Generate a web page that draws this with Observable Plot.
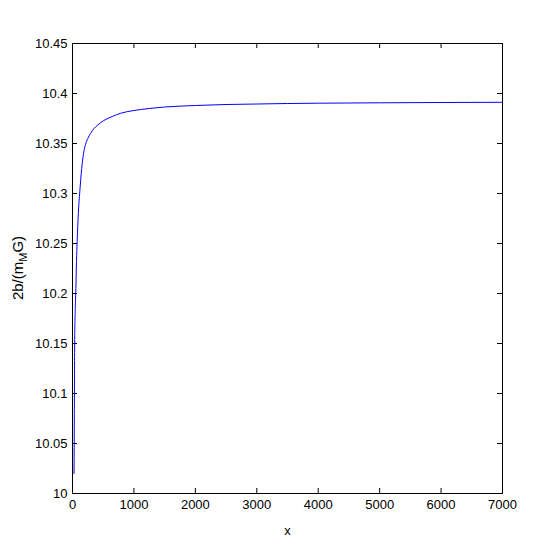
<!DOCTYPE html>
<html><head><meta charset="utf-8">
<script src="https://cdn.jsdelivr.net/npm/d3@7"></script>
<script src="https://cdn.jsdelivr.net/npm/@observablehq/plot@0.6"></script>
<style>body{margin:0;background:#fff}</style>
</head><body><div id="chart"></div>
<script>
const xValues = [25, 30, 35, 45, 55, 65, 76, 95, 119, 150, 180, 212, 250, 293, 350, 402, 510, 647, 782, 1000, 1250, 1500, 2000, 2500, 3000, 3500, 4000, 5000, 6000, 7000];
const yValues = [10.02, 10.08, 10.15, 10.185, 10.205, 10.232, 10.252, 10.28, 10.302, 10.325, 10.34, 10.349, 10.355, 10.360, 10.365, 10.368, 10.373, 10.377, 10.3802, 10.383, 10.385, 10.3865, 10.388, 10.389, 10.3895, 10.390, 10.3903, 10.3907, 10.391, 10.3912];
const xTicks = [0, 1000, 2000, 3000, 4000, 5000, 6000, 7000];
const yTicks = [10, 10.05, 10.1, 10.15, 10.2, 10.25, 10.3, 10.35, 10.4, 10.45];
const xLabel = "x";
const yLabelParts = ["2b/(m", "M", "G)"];

const data = xValues.map((x, i) => ({x, y: yValues[i]}));
const fmt = d => String(+(+d).toFixed(2));

const W = 554, H = 554, mL = 72, mR = 52, mT = 43, mB = 61, tick = 5;
const fw = W - mL - mR, fh = H - mT - mB;

const plot = Plot.plot({
  width: W, height: H,
  marginLeft: mL, marginRight: mR, marginTop: mT, marginBottom: mB,
  style: {fontFamily: "'Liberation Sans', Arial, Helvetica, sans-serif", fontSize: "13px", background: "#fff", color: "#000"},
  x: {domain: [0, 7000]},
  y: {domain: [10, 10.45]},
  marks: [
    Plot.axisX(xTicks, {anchor: "bottom", tickSize: 0, tickPadding: 6, tickFormat: fmt, label: xLabel, labelAnchor: "center", labelArrow: "none", labelOffset: 41, fontSize: 13}),
    Plot.axisY(yTicks, {anchor: "left", tickSize: 0, tickPadding: 5, tickFormat: fmt, label: null, fontSize: 13}),
    Plot.tickX(xTicks, {x: d => d, insetTop: fh - tick, stroke: "#000"}),
    Plot.tickX(xTicks, {x: d => d, insetBottom: fh - tick, stroke: "#000"}),
    Plot.tickY(yTicks, {y: d => d, insetRight: fw - tick, stroke: "#000"}),
    Plot.tickY(yTicks, {y: d => d, insetLeft: fw - tick, stroke: "#000"}),
    Plot.frame({stroke: "#000", strokeWidth: 1}),
    Plot.line(data, {x: "x", y: "y", stroke: "#0000ff", strokeWidth: 1, curve: "monotone-x"})
  ]
});

const svg = d3.select(plot);
const t = svg.append("text")
  .attr("transform", "translate(23,268) rotate(-90)")
  .attr("text-anchor", "middle")
  .attr("font-size", 15)
  .attr("fill", "#000");
t.append("tspan").text(yLabelParts[0]);
t.append("tspan").attr("dy", 4).attr("font-size", 11).text(yLabelParts[1]);
t.append("tspan").attr("dy", -4).text(yLabelParts[2]);

document.getElementById("chart").appendChild(plot);
</script>
</body></html>
